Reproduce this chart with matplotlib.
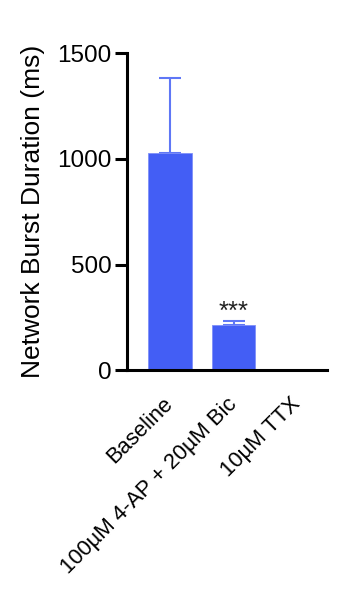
import matplotlib.pyplot as plt
import numpy as np

plt.rcParams['font.family'] = ['Liberation Sans', 'DejaVu Sans']

# Network burst duration per condition (ms)
conditions = ['Baseline', '100µM 4-AP + 20µM Bic', '10µM TTX']
means = [1028, 214, 0]
sem_upper = [355, 18, 0]
sig_labels = ['', '***', '']

bar_color = '#435ef5'
err_color = '#5f77f6'

fig = plt.figure(figsize=(3.4, 6.05), dpi=100)
ax = fig.add_axes([0.3735, 0.388, 0.589, 0.524])

x = np.arange(len(conditions))
ax.bar(x, means, width=0.68, color=bar_color, edgecolor='#7f90f8', linewidth=0.6, zorder=2)
for xi, m, e in zip(x, means, sem_upper):
    if e > 0:
        ax.errorbar(xi, m, yerr=[[0], [e]], fmt='none', ecolor=err_color,
                    elinewidth=1.5, capsize=8, capthick=1.5, zorder=1)

# significance stars
for xi, m, e, s in zip(x, means, sem_upper, sig_labels):
    if s:
        ax.text(xi, m + e + 12, s, ha='center', va='baseline', fontsize=18.5, color='#222222')

ax.set_xlim(-0.677, 2.47)
ax.set_ylim(0, 1500)
ax.set_yticks([0, 500, 1000, 1500])
ax.tick_params(axis='y', length=8.6, width=2.2, labelsize=17.5, pad=2.5)
ax.tick_params(axis='x', length=0, pad=22)
ax.set_xticks(x)
ax.set_xticklabels(conditions, rotation=45, ha='right', va='center',
                   rotation_mode='anchor', fontsize=15.8)

for side in ['top', 'right']:
    ax.spines[side].set_visible(False)
for side in ['left', 'bottom']:
    ax.spines[side].set_linewidth(2.2)

ax.set_ylabel('Network Burst Duration (ms)', fontsize=19, labelpad=9)

fig.savefig('out.png', dpi=100)
